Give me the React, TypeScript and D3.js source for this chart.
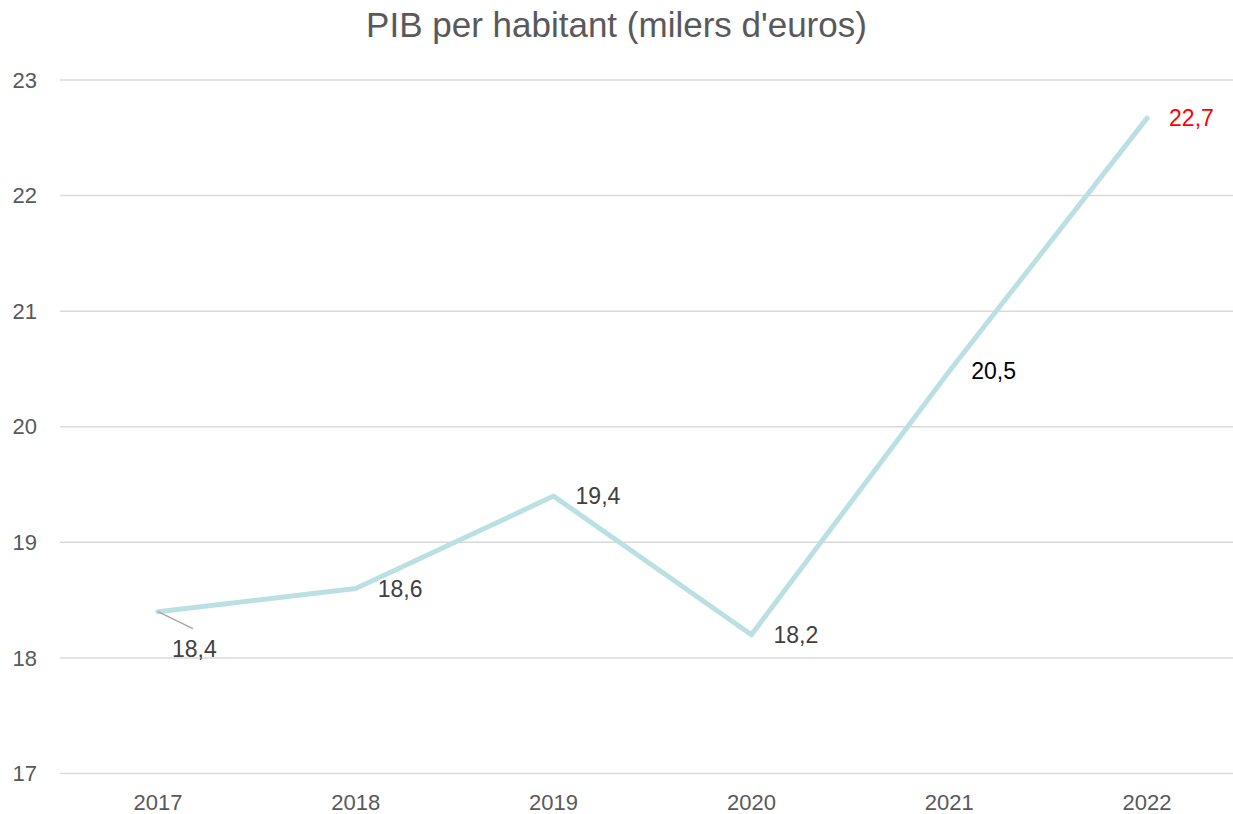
import React from "react";
import * as d3 from "d3";

const years = ["2017", "2018", "2019", "2020", "2021", "2022"];
const values = [18.4, 18.6, 19.4, 18.2, 20.48, 22.67];
const labels = ["18,4", "18,6", "19,4", "18,2", "20,5", "22,7"];
const labelColors = ["#404040", "#404040", "#404040", "#404040", "#000000", "#FF0000"];
const yTicks = [17, 18, 19, 20, 21, 22, 23];
const title = "PIB per habitant (milers d'euros)";

const W = 1233;
const H = 814;
const FONT = "'Liberation Sans', Arial, sans-serif";

export default function App() {
  const x = d3.scaleBand<string>().domain(years).range([59, 1246]);
  const y = d3.scaleLinear().domain([17, 23]).range([773.5, 80]);
  const cx = (d: string) => (x(d) as number) + x.bandwidth() / 2;
  const line = d3
    .line<number>()
    .x((_, i) => cx(years[i]))
    .y((v) => y(v));

  return (
    <svg
      width={W}
      height={H}
      style={{ position: "absolute", left: 0, top: 0, background: "#fff" }}
      fontFamily={FONT}
    >
      <rect width={W} height={H} fill="#fff" />
      <text x={W / 2} y={37} textAnchor="middle" fontSize={35} fill="#595959">
        {title}
      </text>
      {yTicks.map((t) => (
        <g key={t}>
          <line x1={60} x2={1246} y1={y(t)} y2={y(t)} stroke="#D9D9D9" strokeWidth={1.5} />
          <text
            x={37}
            y={y(t)}
            dy="0.35em"
            textAnchor="end"
            fontSize={22}
            fill="#595959"
          >
            {t}
          </text>
        </g>
      ))}
      {years.map((yr) => (
        <text key={yr} x={cx(yr)} y={810} textAnchor="middle" fontSize={22} fill="#595959">
          {yr}
        </text>
      ))}
      <path
        d={line(values) || ""}
        fill="none"
        stroke="#BBE0E3"
        strokeWidth={5}
        strokeLinejoin="round"
        strokeLinecap="round"
      />
      <line
        x1={cx(years[0])}
        y1={y(values[0])}
        x2={cx(years[0]) + 35}
        y2={y(values[0]) + 17}
        stroke="#A6A6A6"
        strokeWidth={1.5}
      />
      {values.map((v, i) => {
        const first = i === 0;
        return (
          <text
            key={i}
            x={cx(years[i]) + (first ? 14 : 22)}
            y={y(v) + (first ? 37 : 0)}
            dy="0.35em"
            fontSize={23}
            fill={labelColors[i]}
          >
            {labels[i]}
          </text>
        );
      })}
    </svg>
  );
}
